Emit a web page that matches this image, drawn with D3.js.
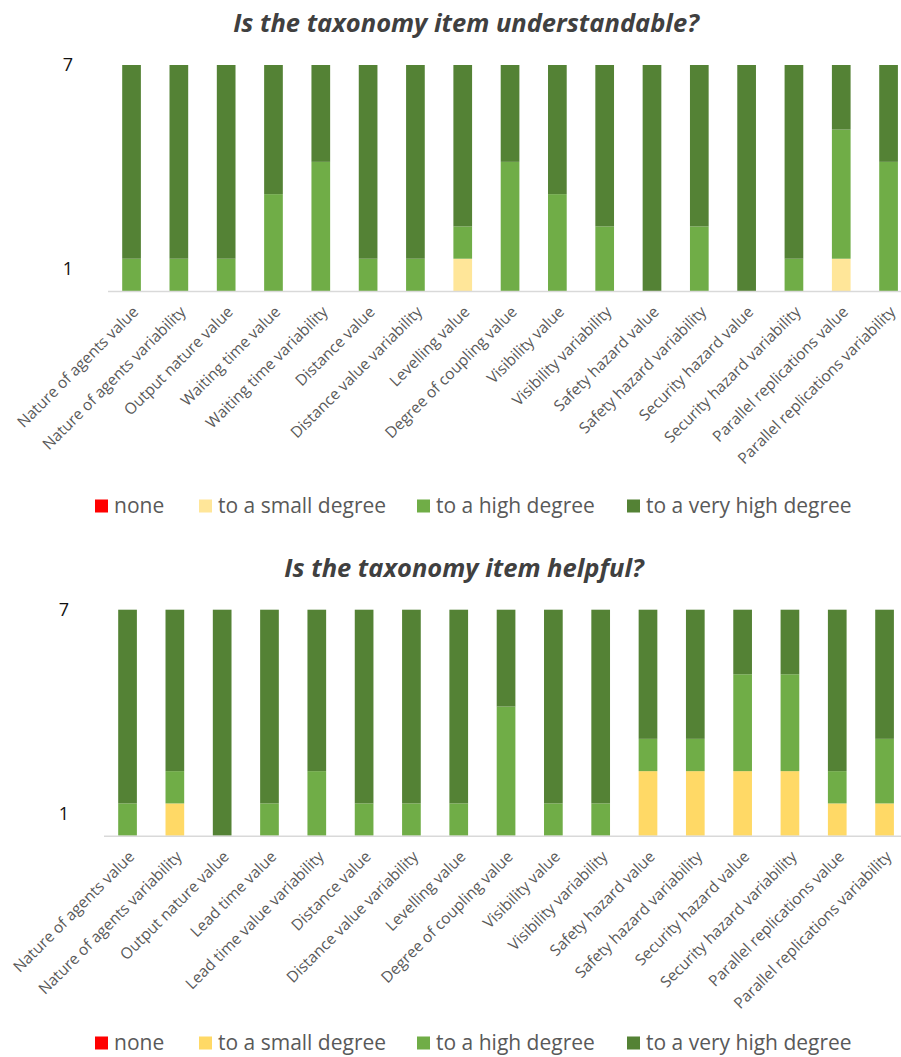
<!DOCTYPE html>
<html>
<head>
<meta charset="utf-8">
<script src="https://cdn.jsdelivr.net/npm/d3@7"></script>
<style>
  body { margin: 0; background: #fff; }
  text { font-family: "Open Sans", "DejaVu Sans", sans-serif; }
</style>
</head>
<body>
<script>
// ==================================================
// data
// ==================================================
const levels = ['none', 'to a small degree', 'to a high degree', 'to a very high degree'];

const itemsUnderstandable = [
    'Nature of agents value', 'Nature of agents variability', 'Output nature value',
    'Waiting time value', 'Waiting time variability', 'Distance value',
    'Distance value variability', 'Levelling value', 'Degree of coupling value',
    'Visibility value', 'Visibility variability', 'Safety hazard value',
    'Safety hazard variability', 'Security hazard value', 'Security hazard variability',
    'Parallel replications value', 'Parallel replications variability'
];

const itemsHelpful = [
    'Nature of agents value', 'Nature of agents variability', 'Output nature value',
    'Lead time value', 'Lead time value variability', 'Distance value',
    'Distance value variability', 'Levelling value', 'Degree of coupling value',
    'Visibility value', 'Visibility variability', 'Safety hazard value',
    'Safety hazard variability', 'Security hazard value', 'Security hazard variability',
    'Parallel replications value', 'Parallel replications variability'
];

// counts per answer, one array per level
const underNone     = [0, 0, 0, 0, 0, 0, 0, 0, 0, 0, 0, 0, 0, 0, 0, 0, 0];
const underSmall    = [0, 0, 0, 0, 0, 0, 0, 1, 0, 0, 0, 0, 0, 0, 0, 1, 0];
const underHigh     = [1, 1, 1, 3, 4, 1, 1, 1, 4, 3, 2, 0, 2, 0, 1, 4, 4];
const underVeryHigh = [6, 6, 6, 4, 3, 6, 6, 5, 3, 4, 5, 7, 5, 7, 6, 2, 3];

const helpNone     = [0, 0, 0, 0, 0, 0, 0, 0, 0, 0, 0, 0, 0, 0, 0, 0, 0];
const helpSmall    = [0, 1, 0, 0, 0, 0, 0, 0, 0, 0, 0, 2, 2, 2, 2, 1, 1];
const helpHigh     = [1, 1, 0, 1, 2, 1, 1, 1, 4, 1, 1, 1, 1, 3, 3, 1, 2];
const helpVeryHigh = [6, 5, 7, 6, 5, 6, 6, 6, 3, 6, 6, 4, 4, 2, 2, 5, 4];

const yTicks = [1, 7];

function buildRows(items, series) {
    return items.map((item, i) => {
        const row = { item };
        levels.forEach((lv, j) => { row[lv] = series[j][i]; });
        return row;
    });
}

// ==================================================
// one stacked chart
// ==================================================
function drawChart(svg, opts) {
    const x = d3.scaleBand()
        .domain(opts.rows.map(d => d.item))
        .range([opts.left, opts.left + 17 * 47.3])
        .paddingInner(0.605)
        .paddingOuter(0.3);

    const y = d3.scaleLinear()
        .domain([0, 7])
        .range([opts.base, opts.top]);

    const color = d3.scaleOrdinal()
        .domain(levels)
        .range(opts.colors);

    const stack = d3.stack().keys(levels)(opts.rows);

    // title
    svg.append('text')
        .attr('x', opts.titleX)
        .attr('y', opts.titleY)
        .attr('text-anchor', 'middle')
        .attr('font-size', '25.5px')
        .attr('font-weight', 'bold')
        .attr('font-style', 'italic')
        .attr('fill', '#404040')
        .text(opts.title);

    // bars
    svg.append('g')
        .selectAll('g')
        .data(stack)
        .enter()
        .append('g')
        .attr('fill', d => color(d.key))
        .selectAll('rect')
        .data(d => d)
        .enter()
        .append('rect')
        .attr('x', d => x(d.data.item))
        .attr('y', d => y(d[1]))
        .attr('width', x.bandwidth())
        .attr('height', d => y(d[0]) - y(d[1]));

    // baseline
    svg.append('line')
        .attr('x1', opts.left)
        .attr('x2', 901)
        .attr('y1', opts.base + 0.5)
        .attr('y2', opts.base + 0.5)
        .attr('stroke', '#d9d9d9')
        .attr('stroke-width', 1.5);

    // y labels (only 1 and 7 shown)
    svg.selectAll(null)
        .data(yTicks)
        .enter()
        .append('text')
        .attr('x', opts.tickX)
        .attr('y', d => y(d) + (d === 1 ? 10 : 0))
        .attr('dy', '0.35em')
        .attr('text-anchor', 'middle')
        .attr('font-size', '18px')
        .attr('fill', '#111')
        .text(d => d);

    // category labels, rotated
    svg.selectAll(null)
        .data(opts.rows)
        .enter()
        .append('text')
        .attr('transform', d => {
            const cx = x(d.item) + x.bandwidth() / 2;
            return `translate(${cx + 4}, ${opts.base + 18}) rotate(-45)`;
        })
        .attr('text-anchor', 'end')
        .attr('dy', '0.35em')
        .attr('font-size', '15.5px')
        .attr('fill', '#595959')
        .text(d => d.item);

    // legend
    const legendX = [95, 199, 417, 627];
    const lg = svg.append('g');
    levels.forEach((lv, i) => {
        lg.append('rect')
            .attr('x', legendX[i])
            .attr('y', opts.legendY - 6.5)
            .attr('width', 13)
            .attr('height', 13)
            .attr('fill', color(lv));
        lg.append('text')
            .attr('x', legendX[i] + 19)
            .attr('y', opts.legendY)
            .attr('dy', '0.35em')
            .attr('font-size', '21px')
            .attr('fill', '#595959')
            .text(lv);
    });
}

function renderSVG() {
    const svg = d3.select('body')
        .append('svg')
        .attr('width', 901)
        .attr('height', 1057);

    drawChart(svg, {
        rows: buildRows(itemsUnderstandable, [underNone, underSmall, underHigh, underVeryHigh]),
        colors: ['#ff0000', '#ffe699', '#70ad47', '#548235'],
        title: 'Is the taxonomy item understandable?',
        titleX: 466, titleY: 32,
        left: 108, top: 65, base: 291,
        tickX: 68,
        legendY: 506
    });

    drawChart(svg, {
        rows: buildRows(itemsHelpful, [helpNone, helpSmall, helpHigh, helpVeryHigh]),
        colors: ['#ff0000', '#ffd966', '#70ad47', '#548235'],
        title: 'Is the taxonomy item helpful?',
        titleX: 464, titleY: 577,
        left: 104, top: 609.7, base: 835.7,
        tickX: 64,
        legendY: 1043
    });
}

window.addEventListener('load', function() {
    requestAnimationFrame(renderSVG);
});
</script>
</body>
</html>
